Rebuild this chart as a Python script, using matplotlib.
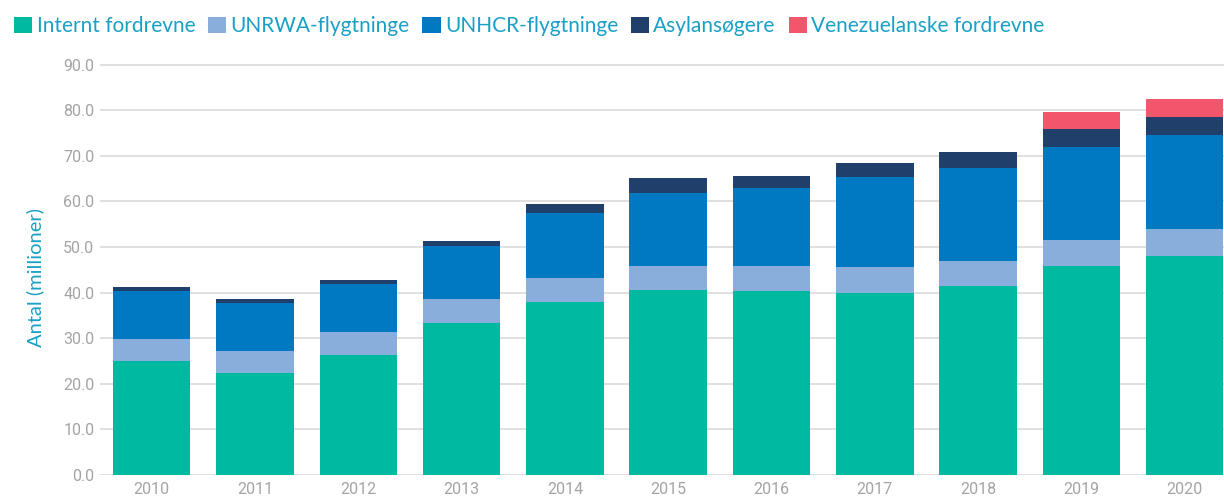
import matplotlib

matplotlib.use("Agg")
import matplotlib.pyplot as plt  # noqa: E402
import numpy as np  # noqa: E402
from matplotlib.patches import Patch  # noqa: E402

# data (millioner)
years = ["2010", "2011", "2012", "2013", "2014", "2015", "2016", "2017", "2018", "2019", "2020"]
internt = [25.0, 22.4, 26.4, 33.3, 37.9, 40.6, 40.4, 40.0, 41.4, 45.8, 48.1]
unrwa = [4.8, 4.9, 5.0, 5.2, 5.2, 5.2, 5.4, 5.6, 5.5, 5.7, 5.8]
unhcr = [10.6, 10.4, 10.6, 11.7, 14.4, 16.1, 17.1, 19.8, 20.4, 20.4, 20.7]
asyl = [0.8, 0.9, 0.8, 1.1, 1.9, 3.2, 2.7, 3.1, 3.5, 4.0, 4.0]
venez = [0, 0, 0, 0, 0, 0, 0, 0, 0, 3.7, 3.9]

series = [
    ("Internt fordrevne", internt, "#00B9A1"),
    ("UNRWA-flygtninge", unrwa, "#8AAEDB"),
    ("UNHCR-flygtninge", unhcr, "#0079C2"),
    ("Asylansøgere", asyl, "#203F6A"),
    ("Venezuelanske fordrevne", venez, "#F1566D"),
]

TEXT_BLUE = "#1AA0C6"
TICK_GREY = "#A4A4A4"

fig = plt.figure(figsize=(12.24, 4.98), dpi=100)
ax = fig.add_axes([100 / 1224, 23 / 498, 1124 / 1224, (437.9 - 23) / 498])

x = np.arange(len(years))
bottom = np.zeros(len(years))
for name, vals, color in series:
    vals = np.array(vals, dtype=float)
    ax.bar(x, vals, width=0.75, bottom=bottom, color=color, edgecolor="none", zorder=3)
    bottom += vals

ax.set_xlim(-0.5, 10.38)
ax.set_ylim(0, 91)
ax.set_yticks(np.arange(0, 91, 10))
ax.set_yticklabels([f"{v:.1f}" for v in range(0, 91, 10)])
ax.set_xticks(x)
ax.set_xticklabels(years)

ax.grid(axis="y", color="#DADADA", linewidth=1.2, zorder=0)
ax.grid(axis="x", visible=False)
for s in ax.spines.values():
    s.set_visible(False)
ax.tick_params(axis="both", length=0, colors=TICK_GREY, labelsize=11.5)
ax.tick_params(axis="y", pad=4)
ax.tick_params(axis="x", pad=5)
for lbl in ax.get_xticklabels() + ax.get_yticklabels():
    lbl.set_family("Roboto")

ax.set_ylabel("Antal (millioner)", color=TEXT_BLUE, fontsize=14.5, family="Lato")
ax.yaxis.set_label_coords(-0.05, 0.475)

handles = [Patch(facecolor=c, edgecolor="none", label=n) for n, _, c in series]
leg = fig.legend(
    handles=handles,
    loc="upper left",
    bbox_to_anchor=(6 / 1224, 1 - 8 / 498),
    ncol=5,
    frameon=False,
    prop={"family": "Lato", "size": 15},
    handlelength=0.87,
    handleheight=0.85,
    handletextpad=0.2,
    columnspacing=0.62,
    borderaxespad=0,
)
for t in leg.get_texts():
    t.set_color(TEXT_BLUE)

fig.savefig("out.png", dpi=100)
